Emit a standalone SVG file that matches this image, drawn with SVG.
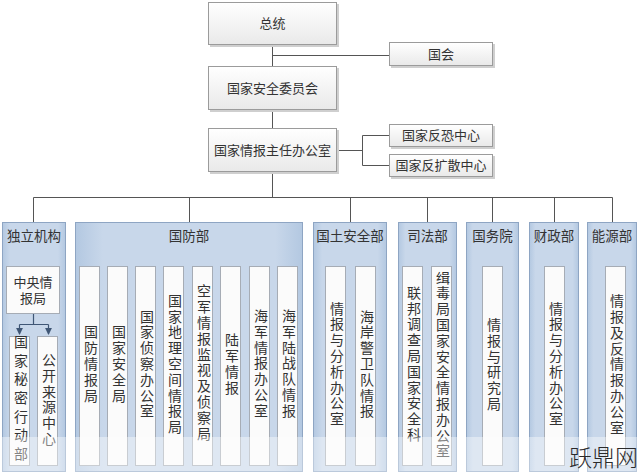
<svg xmlns="http://www.w3.org/2000/svg" width="640" height="475" viewBox="0 0 640 475">
<defs>
<linearGradient id="gBox" x1="0" y1="0" x2="0" y2="1"><stop offset="0" stop-color="#ffffff"/><stop offset="1" stop-color="#e9e9e9"/></linearGradient>
<linearGradient id="gPanel" x1="0" y1="0" x2="1" y2="0"><stop offset="0" stop-color="#b3c8e1"/><stop offset="0.12" stop-color="#c8d7ea"/><stop offset="0.88" stop-color="#c8d7ea"/><stop offset="1" stop-color="#b3c8e1"/></linearGradient>
<marker id="arr" viewBox="0 0 8 8" refX="7" refY="4" markerWidth="6" markerHeight="6" orient="auto"><path d="M0,0 L8,4 L0,8 z" fill="#3f5675"/></marker>
<style>
text{font-family:"Liberation Serif","Noto Sans CJK SC",serif;fill:#333;}
.t{font-size:13px;text-anchor:middle;dominant-baseline:central;}
.h{font-size:13.5px;text-anchor:middle;dominant-baseline:central;}
.v{font-size:14px;writing-mode:vertical-rl;text-anchor:middle;letter-spacing:1.8px;}
.box{fill:url(#gBox);stroke:#9b9b9b;stroke-width:1;}
.sh{fill:#cfcfcf;}
.panel{fill:url(#gPanel);stroke:#8ea5c3;stroke-width:1;}
.inner{fill:#fbfbfb;stroke:#a6acb5;stroke-width:1;}
.ln{stroke:#555;stroke-width:1;fill:none;}
.al{stroke:#3f5675;stroke-width:1.2;fill:none;}
</style>
</defs>
<rect width="640" height="475" fill="#ffffff"/>

<g id="connectors">
<path class="ln" d="M272.5,45 V66 M272.5,55.5 H389 M272.5,110 V128 M337,150.5 H362.5 M362.5,135.5 V165.5 M362.5,135.5 H389 M362.5,165.5 H389 M272.5,172 V197.5 M33.5,197.5 H612.5 M33.5,197.5 V222 M189.5,197.5 V222 M350.5,197.5 V222 M427.5,197.5 V222 M492.5,197.5 V222 M554.5,197.5 V222 M612.5,197.5 V222"/>
</g>

<g id="n-zongtong"><rect class="sh" x="210" y="4" width="129" height="43"/><rect class="box" x="208.5" y="2.5" width="128" height="42"/><text class="t" x="272.5" y="23.5">总统</text></g>
<g id="n-guohui"><rect class="sh" x="391" y="44" width="104" height="24"/><rect class="box" x="389.5" y="42.5" width="103" height="23"/><text class="t" x="441" y="54">国会</text></g>
<g id="n-nsc"><rect class="sh" x="210" y="68" width="129" height="44"/><rect class="box" x="208.5" y="66.5" width="128" height="43"/><text class="t" x="272.5" y="88">国家安全委员会</text></g>
<g id="n-dni"><rect class="sh" x="210" y="130" width="129" height="44"/><rect class="box" x="208.5" y="128.5" width="128" height="43"/><text class="t" x="272.5" y="150">国家情报主任办公室</text></g>
<g id="n-nctc"><rect class="sh" x="391" y="126" width="104" height="23"/><rect class="box" x="389.5" y="124.5" width="103" height="22"/><text class="t" x="441" y="135.5">国家反恐中心</text></g>
<g id="n-ncpc"><rect class="sh" x="391" y="156" width="104" height="23"/><rect class="box" x="389.5" y="154.5" width="103" height="22"/><text class="t" x="441" y="165.5">国家反扩散中心</text></g>

<g id="p-independent">
<rect class="panel" x="2.5" y="222.5" width="63" height="249"/>
<text class="h" x="34" y="236">独立机构</text>
<rect class="inner" x="6.5" y="266.5" width="53" height="47"/>
<text class="t" x="33" y="282">中央情</text><text class="t" x="33" y="298">报局</text>
<path class="al" d="M33.5,314 V324.5 M19.5,324.5 H48.5"/>
<path class="al" d="M19.5,324.5 V334" marker-end="url(#arr)"/>
<path class="al" d="M48.5,324.5 V334" marker-end="url(#arr)"/>
<rect class="inner" x="9.5" y="336.5" width="20" height="129"/>
<text class="v" x="19.5" y="400" style="letter-spacing:4.7px">国家秘密行动部</text>
<rect class="inner" x="37.5" y="336.5" width="20" height="129"/>
<text class="v" x="47.5" y="400">公开来源中心</text>
</g>

<g id="p-dod">
<rect class="panel" x="75.5" y="222.5" width="227" height="249"/>
<text class="h" x="189" y="236">国防部</text>
<rect class="inner" x="79.5" y="266.5" width="20" height="199"/><text class="v" x="89.5" y="364.5">国防情报局</text>
<rect class="inner" x="107.5" y="266.5" width="20" height="199"/><text class="v" x="117.5" y="364.5">国家安全局</text>
<rect class="inner" x="135.5" y="266.5" width="20" height="199"/><text class="v" x="145.5" y="364.5">国家侦察办公室</text>
<rect class="inner" x="163.5" y="266.5" width="20" height="199"/><text class="v" x="173.5" y="364.5">国家地理空间情报局</text>
<rect class="inner" x="192.5" y="266.5" width="20" height="199"/><text class="v" x="202.5" y="363">空军情报监视及侦察局</text>
<rect class="inner" x="220.5" y="266.5" width="20" height="199"/><text class="v" x="230.5" y="364.5">陆军情报</text>
<rect class="inner" x="249.5" y="266.5" width="20" height="199"/><text class="v" x="259.5" y="364">海军情报办公室</text>
<rect class="inner" x="277.5" y="266.5" width="20" height="199"/><text class="v" x="287.5" y="364">海军陆战队情报</text>
</g>

<g id="p-dhs">
<rect class="panel" x="313.5" y="222.5" width="73" height="249"/>
<text class="h" x="350" y="236">国土安全部</text>
<rect class="inner" x="325.5" y="266.5" width="20" height="199"/><text class="v" x="335.5" y="364.5">情报与分析办公室</text>
<rect class="inner" x="355.5" y="266.5" width="20" height="199"/><text class="v" x="365.5" y="364.5">海岸警卫队情报</text>
</g>

<g id="p-doj">
<rect class="panel" x="398.5" y="222.5" width="58" height="249"/>
<text class="h" x="427.5" y="236">司法部</text>
<rect class="inner" x="402.5" y="266.5" width="20" height="199"/><text class="v" x="412.5" y="364.5">联邦调查局国家安全科</text>
<rect class="inner" x="431.5" y="266.5" width="20" height="199"/><text class="v" x="441.5" y="365">缉毒局国家安全情报办公室</text>
</g>

<g id="p-state">
<rect class="panel" x="466.5" y="222.5" width="52" height="249"/>
<text class="h" x="492.5" y="236">国务院</text>
<rect class="inner" x="482.5" y="266.5" width="20" height="199"/><text class="v" x="492.5" y="365">情报与研究局</text>
</g>

<g id="p-treasury">
<rect class="panel" x="529.5" y="222.5" width="49" height="249"/>
<text class="h" x="554" y="236">财政部</text>
<rect class="inner" x="544.5" y="266.5" width="20" height="199"/><text class="v" x="554.5" y="364.5">情报与分析办公室</text>
</g>

<g id="p-energy">
<rect class="panel" x="587.5" y="222.5" width="49" height="249"/>
<text class="h" x="612" y="236">能源部</text>
<rect class="inner" x="605.5" y="266.5" width="20" height="199"/><text class="v" x="615.5" y="365">情报及反情报办公室</text>
</g>

<rect x="0" y="437" width="640" height="36" fill="#ffffff" fill-opacity="0.4"/>
<text x="569" y="466" style="font-family:'Noto Sans CJK SC',sans-serif;font-size:23px;font-weight:300;fill:#2a2a2a;">跃鼎网</text>
</svg>
